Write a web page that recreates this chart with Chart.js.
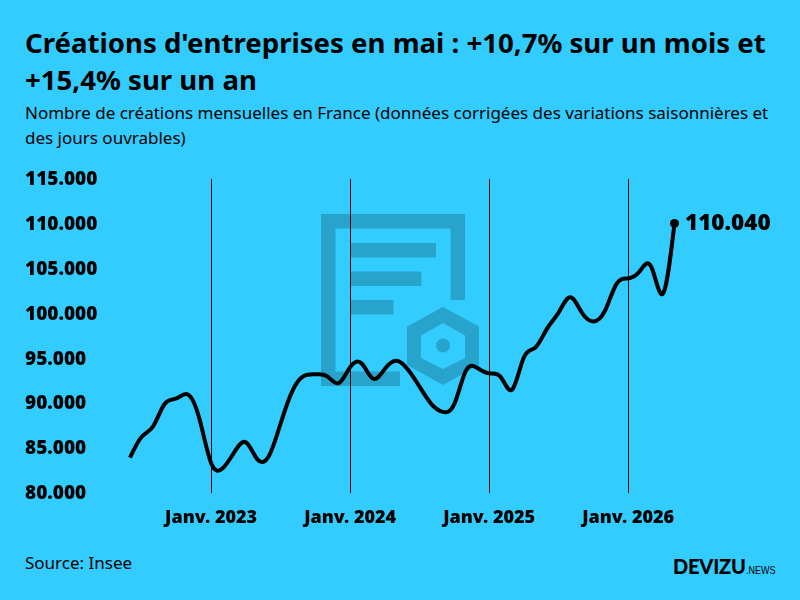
<!DOCTYPE html>
<html lang="fr">
<head>
<meta charset="utf-8">
<title>Créations d'entreprises</title>
<script src="https://cdn.jsdelivr.net/npm/chart.js@4"></script>
<style>
  html, body { margin: 0; padding: 0; }
  body { width: 800px; height: 600px; background: #33ccff; position: relative; overflow: hidden; color: #000; font-family: "Noto Sans", sans-serif; }
  #title { position: absolute; left: 25px; top: 24px; width: 770px; font-size: 27.6px; line-height: 37px; font-weight: 700; margin: 0; white-space: nowrap; }
  #subtitle { position: absolute; left: 25px; top: 100px; width: 770px; font-size: 17px; line-height: 25px; margin: 0; white-space: nowrap; }
  #source { position: absolute; left: 25px; top: 551px; font-size: 17px; line-height: 24px; }
  #brand { position: absolute; left: 673px; top: 553px; font-size: 20px; line-height: 26px; font-weight: 900; font-family: Lato, sans-serif; letter-spacing: -0.2px; white-space: nowrap; }
  #brand span { display: inline-block; font-family: "Liberation Sans", sans-serif; font-size: 11px; font-weight: 400; letter-spacing: 0; transform: scaleX(0.82); transform-origin: left center; }
  #emblem { position: absolute; left: 0; top: 0; }
  #plot { position: absolute; left: 0; top: 0; }
</style>
</head>
<body>
<svg id="emblem" width="800" height="600" fill="#28a3cc">
  <path d="M321 214H465V300H450.500V228.500H335.500V371.500H400V386H321Z"/>
  <rect x="350.500" y="243" width="85.500" height="14.500"/>
  <rect x="350.500" y="271.500" width="71" height="14.500"/>
  <rect x="350.500" y="300" width="43" height="14.500"/>
  <path fill-rule="evenodd" d="M443 307L479 326.500V365L443 385L407 365V326.500ZM443 323L421 335.500V358L443 369L465 358V335.500Z"/>
  <circle cx="443" cy="345.500" r="7"/>
</svg>
<h1 id="title">Créations d'entreprises en mai : +10,7% sur un mois et<br>+15,4% sur un an</h1>
<p id="subtitle">Nombre de créations mensuelles en France (données corrigées des variations saisonnières et<br>des jours ouvrables)</p>
<div id="source">Source: Insee</div>
<div id="brand">DEVIZU<span>.NEWS</span></div>
<canvas id="plot" width="800" height="600"></canvas>
<script>
// Créations mensuelles, juin 2022 à mai 2026
const months = [
  '2022-06','2022-07','2022-08','2022-09','2022-10','2022-11','2022-12',
  '2023-01','2023-02','2023-03','2023-04','2023-05','2023-06','2023-07','2023-08','2023-09','2023-10','2023-11','2023-12',
  '2024-01','2024-02','2024-03','2024-04','2024-05','2024-06','2024-07','2024-08','2024-09','2024-10','2024-11','2024-12',
  '2025-01','2025-02','2025-03','2025-04','2025-05','2025-06','2025-07','2025-08','2025-09','2025-10','2025-11','2025-12',
  '2026-01','2026-02','2026-03','2026-04','2026-05'
];
const creations = [
  83900,86200,87400,89900,90500,90950,88200,
  83300,82700,84500,85600,83700,84100,87700,91300,93000,93200,93000,92200,
  94000,94400,92700,93800,94700,93700,91800,89900,89000,89900,93600,93900,
  93300,92900,91500,95100,96200,98300,100100,101800,100100,99100,100300,103300,
  103900,104700,105200,102200,110040
];
const yTicks = [80000,85000,90000,95000,100000,105000,110000,115000];

const dotted = n => String(n).replace(/\B(?=(\d{3})+$)/g, '.');
const isJanuary = i => months[i].endsWith('-01');
const lastIndex = creations.length - 1;

// Dérivées premières d'une spline cubique naturelle sur des points régulièrement espacés
function naturalTangents(v) {
  const n = v.length, c = new Array(n).fill(0), d = new Array(n).fill(0);
  c[0] = 0.5; d[0] = 1.5 * (v[1] - v[0]);
  for (let i = 1; i < n - 1; i++) {
    const m = 4 - c[i - 1];
    c[i] = 1 / m;
    d[i] = (3 * (v[i + 1] - v[i - 1]) - d[i - 1]) / m;
  }
  const m = new Array(n);
  m[n - 1] = (3 * (v[n - 1] - v[n - 2]) - d[n - 2]) / (2 - c[n - 2]);
  for (let i = n - 2; i >= 0; i--) m[i] = d[i] - c[i] * m[i + 1];
  return m;
}

// Remplace les points de contrôle de la ligne par ceux de la spline
const smoothCurve = {
  id: 'smoothCurve',
  afterDatasetUpdate(chart, args) {
    const line = chart.getDatasetMeta(args.index).dataset;
    line.updateControlPoints(chart.chartArea, 'x');
    const pts = line.points;
    const ty = naturalTangents(pts.map(p => p.y));
    const step = pts[1].x - pts[0].x;
    pts.forEach((p, i) => {
      p.cp1x = p.x - step / 3;
      p.cp2x = p.x + step / 3;
      p.cp1y = p.y - ty[i] / 3;
      p.cp2y = p.y + ty[i] / 3;
    });
  }
};

// Étiquette de la dernière valeur, à droite du point final
const lastValueLabel = {
  id: 'lastValueLabel',
  afterDatasetsDraw(chart) {
    const pt = chart.getDatasetMeta(0).data[lastIndex];
    const ctx = chart.ctx;
    ctx.save();
    ctx.font = '900 22.500px "Noto Sans", sans-serif';
    ctx.fillStyle = '#000';
    ctx.textAlign = 'left';
    ctx.textBaseline = 'middle';
    ctx.fillText(dotted(creations[lastIndex]), pt.x + 10.500, pt.y);
    ctx.restore();
  }
};

new Chart(document.getElementById('plot'), {
  type: 'line',
  data: {
    labels: months,
    datasets: [{
      data: creations,
      borderColor: '#000',
      backgroundColor: '#000',
      borderWidth: 4,
      tension: 0.33,
      borderCapStyle: 'butt',
      clip: false,
      pointRadius: ctx => ctx.dataIndex === lastIndex ? 4.5 : 0,
      pointBackgroundColor: '#000',
      pointBorderWidth: 0
    }]
  },
  plugins: [smoothCurve, lastValueLabel],
  options: {
    responsive: false,
    animation: false,
    layout: { padding: { left: 25, right: 125.5, top: 179, bottom: 0 } },
    plugins: { legend: { display: false }, tooltip: { enabled: false }, title: { display: false } },
    scales: {
      x: {
        type: 'category',
        offset: false,
        afterFit(scale) { scale.height = 107.5; },
        border: { display: false },
        grid: {
          drawTicks: false,
          color: c => (c.index !== undefined && isJanuary(c.index)) ? '#000' : 'rgba(0,0,0,0)',
          lineWidth: 1
        },
        ticks: {
          autoSkip: false,
          maxRotation: 0,
          padding: 15,
          color: '#000',
          font: { family: '"Noto Sans", sans-serif', size: 18, weight: '900' },
          callback(v, i) { return isJanuary(i) ? 'Janv. ' + months[i].slice(0, 4) : ''; }
        }
      },
      y: {
        min: 80000,
        max: 115000,
        afterFit(scale) { scale.width = 105; },
        afterBuildTicks(scale) { scale.ticks = yTicks.map(value => ({ value })); },
        border: { display: false },
        grid: { display: false },
        ticks: {
          crossAlign: 'far',
          labelOffset: 1,
          color: '#000',
          font: { family: '"Noto Sans", sans-serif', size: 19, weight: '900' },
          callback: v => dotted(v)
        }
      }
    }
  }
});
</script>
</body>
</html>
